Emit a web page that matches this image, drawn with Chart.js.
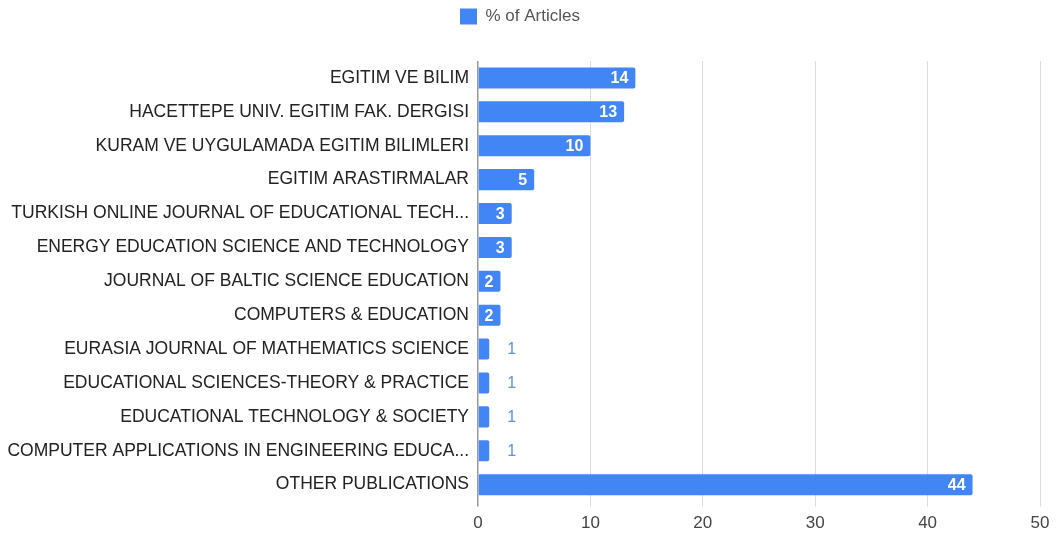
<!DOCTYPE html>
<html>
<head>
<meta charset="utf-8">
<script src="https://cdn.jsdelivr.net/npm/chart.js@4"></script>
<style>
  html, body { margin: 0; padding: 0; background: #fff; }
  #wrap { width: 1057px; height: 537px; }
</style>
</head>
<body>
<div id="wrap"><canvas id="chart" width="1057" height="537"></canvas></div>
<script>
const journals = [
    'EGITIM VE BILIM',
    'HACETTEPE UNIV. EGITIM FAK. DERGISI',
    'KURAM VE UYGULAMADA EGITIM BILIMLERI',
    'EGITIM ARASTIRMALAR',
    'TURKISH ONLINE JOURNAL OF EDUCATIONAL TECH...',
    'ENERGY EDUCATION SCIENCE AND TECHNOLOGY',
    'JOURNAL OF BALTIC SCIENCE EDUCATION',
    'COMPUTERS & EDUCATION',
    'EURASIA JOURNAL OF MATHEMATICS SCIENCE',
    'EDUCATIONAL SCIENCES-THEORY & PRACTICE',
    'EDUCATIONAL TECHNOLOGY & SOCIETY',
    'COMPUTER APPLICATIONS IN ENGINEERING EDUCA...',
    'OTHER PUBLICATIONS'
]
const pct_articles = [14, 13, 10, 5, 3, 3, 2, 2, 1, 1, 1, 1, 44]
const x_ticks = [0, 10, 20, 30, 40, 50]

const barColor = '#4285f4'
const fontFam = '"Liberation Sans", Arial, sans-serif'

// value labels, white inside the bar or blue after it when it does not fit
const barLabels = {
    id: 'barLabels',
    afterDatasetsDraw(chart) {
        const ctx = chart.ctx
        const meta = chart.getDatasetMeta(0)
        ctx.save()
        ctx.textBaseline = 'middle'
        meta.data.forEach((bar, i) => {
            const txt = String(pct_articles[i])
            const len = bar.x - bar.base
            ctx.font = 'bold 16px ' + fontFam
            const w = ctx.measureText(txt).width
            if (w + 10 < len) {
                ctx.fillStyle = '#ffffff'
                ctx.textAlign = 'right'
                ctx.fillText(txt, bar.x - 7, bar.y + 1)
            } else {
                ctx.font = '16px ' + fontFam
                ctx.fillStyle = '#5b8ff0'
                ctx.textAlign = 'left'
                ctx.fillText(txt, bar.x + 18, bar.y + 1)
            }
        })
        ctx.restore()
    }
}

// push the plot down under the legend
const legendGap = {
    id: 'legendGap',
    beforeInit(chart) {
        const fit = chart.legend.fit
        chart.legend.fit = function() {
            fit.bind(chart.legend)()
            this.height += 26
        }
    }
}

var myChart = new Chart(document.getElementById('chart'), {
    type: 'bar',
    data: {
        labels: journals,
        datasets: [{
            label: '% of Articles',
            data: pct_articles,
            backgroundColor: barColor,
            borderRadius: 2,
            borderSkipped: 'start',
            barPercentage: 0.62,
            categoryPercentage: 1
        }]
    },
    options: {
        indexAxis: 'y',
        responsive: false,
        animation: false,
        layout: {
            padding: { left: 0, right: 17, top: 0, bottom: -4 }
        },
        plugins: {
            legend: {
                position: 'top',
                labels: {
                    boxWidth: 17,
                    boxHeight: 16,
                    color: '#555',
                    font: { family: fontFam, size: 17 },
                    padding: 8
                }
            },
            tooltip: { enabled: false }
        },
        scales: {
            x: {
                min: 0,
                max: 50,
                afterBuildTicks: scale => {
                    scale.ticks = x_ticks.map(v => ({ value: v }))
                },
                grid: {
                    color: c => c.tick && c.tick.value === 0 ? '#999' : '#dcdcdc',
                    tickColor: c => c.tick && c.tick.value === 0 ? '#999' : '#dcdcdc',
                    tickLength: 5,
                    lineWidth: c => c.tick && c.tick.value === 0 ? 1.5 : 1
                },
                border: { display: false },
                ticks: {
                    color: '#444',
                    padding: 7,
                    font: { family: fontFam, size: 17 }
                }
            },
            y: {
                afterFit: scale => { scale.width = 478 },
                grid: { display: false, drawTicks: false },
                border: { display: false },
                ticks: {
                    autoSkip: false,
                    color: '#222',
                    padding: 9,
                    font: { family: fontFam, size: 17.5 }
                }
            }
        }
    },
    plugins: [barLabels, legendGap]
});
</script>
</body>
</html>
